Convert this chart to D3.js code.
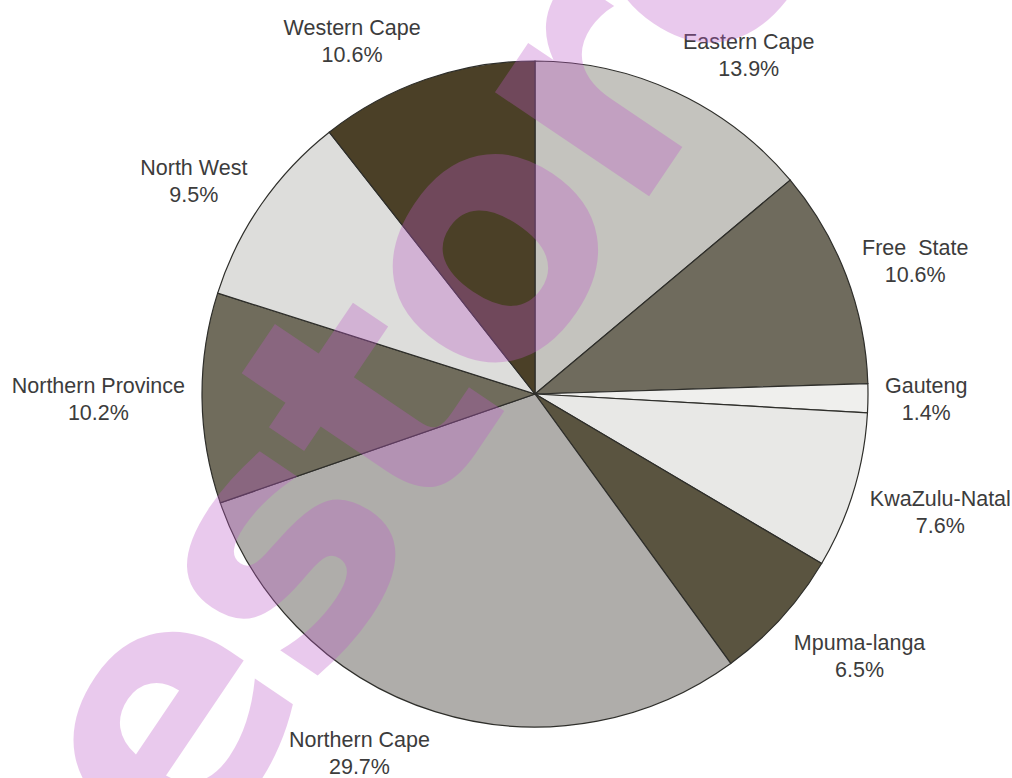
<!DOCTYPE html>
<html>
<head>
<meta charset="utf-8">
<script src="https://cdn.jsdelivr.net/npm/d3@7"></script>
<style>
  body { margin: 0; background: #fff; }
  .lbl { font-family: "Liberation Sans", Arial, sans-serif; font-size: 21.5px; fill: #3c3c3c; white-space: pre; }
</style>
</head>
<body>
<div id="chart"></div>
<script>
// provinces, clockwise from 12 o'clock
var provinces = ["Eastern Cape", "Free  State", "Gauteng", "KwaZulu-Natal", "Mpuma-langa",
  "Northern Cape", "Northern Province", "North West", "Western Cape"];
var shares = [13.9, 10.6, 1.4, 7.6, 6.5, 29.7, 10.2, 9.5, 10.6];
var shades = ["#c4c3be", "#6f6b5d", "#efefed", "#e8e8e6", "#5a5440",
  "#afadaa", "#706c5c", "#dddddb", "#4b4027"];

var svgWidth = 1012;
var svgHeight = 778;

var cx = 535, cy = 394, radius = 333;

var svg = d3.select("#chart")
  .append("svg")
  .attr("width", svgWidth)
  .attr("height", svgHeight);

var chartGroup = svg.append("g")
  .attr("transform", `translate(${cx}, ${cy})`);

var data = provinces.map(function(p, i) {
  return { name: p, value: shares[i], color: shades[i] };
});

var pie = d3.pie()
  .sort(null)
  .value(d => d.value);

var arc = d3.arc()
  .innerRadius(0)
  .outerRadius(radius);

var arcs = pie(data);

// slices
chartGroup.selectAll("path")
  .data(arcs)
  .enter()
  .append("path")
  .attr("d", arc)
  .attr("fill", d => d.data.color)
  .attr("stroke", "#2e2e2a")
  .attr("stroke-width", 1.2);

// labels: name + percent, box corner sits on the ray at labelR
var labelR = 350;
var labels = chartGroup.selectAll(".lbl")
  .data(arcs)
  .enter()
  .append("text")
  .attr("class", "lbl")
  .attr("text-anchor", "middle");

labels.append("tspan")
  .attr("x", 0)
  .attr("dy", -6)
  .text(d => d.data.name);

labels.append("tspan")
  .attr("x", 0)
  .attr("dy", 27)
  .text(d => d.data.value.toFixed(1) + "%");

labels.attr("transform", function(d) {
  var a = (d.startAngle + d.endAngle) / 2;
  var dx = Math.sin(a), dy = -Math.cos(a);
  var w = d3.select(this).select("tspan").node().getComputedTextLength();
  var x = dx * labelR + Math.sign(dx) * w / 2;
  var down = Math.max(0, dy);
  var y = dy * labelR + dy * 24 + down * (1 - down) * 45;
  return `translate(${x}, ${y})`;
});

// watermark overlay
var wmSize = 340;
svg.append("g")
  .attr("transform", "translate(496, 259) rotate(-56)")
  .append("text")
  .attr("x", -688)
  .attr("y", 0.27 * wmSize)
  .attr("font-family", "DejaVu Sans")
  .attr("font-weight", "bold")
  .attr("font-size", wmSize)
  .attr("letter-spacing", -8)
  .attr("fill", "rgb(190, 90, 200)")
  .attr("opacity", 0.32)
  .text("estore");
</script>
</body>
</html>
